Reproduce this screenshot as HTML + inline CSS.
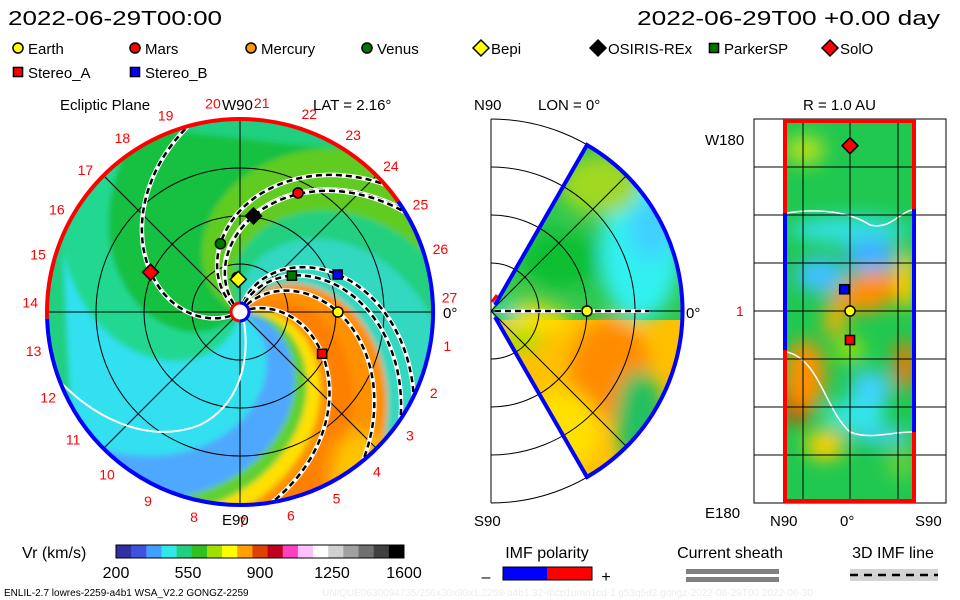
<!DOCTYPE html>
<html><head><meta charset="utf-8">
<style>
html,body{margin:0;padding:0;background:#fff;}
svg{display:block;font-family:"Liberation Sans","DejaVu Sans",sans-serif;}
text{font-family:"Liberation Sans","DejaVu Sans",sans-serif;}
</style></head>
<body>
<svg id="chart" width="960" height="600" viewBox="0 0 960 600" xmlns="http://www.w3.org/2000/svg">
<defs>
  <filter id="blur3" x="-20%" y="-20%" width="140%" height="140%"><feGaussianBlur stdDeviation="3"/></filter>
  <filter id="blur8" x="-30%" y="-30%" width="160%" height="160%"><feGaussianBlur stdDeviation="9"/></filter>
  <clipPath id="eclClip"><circle cx="240" cy="312" r="193"/></clipPath>
  <clipPath id="merClip"><path d="M491,311 L587,145 A192,192 0 0 1 587,477 Z"/></clipPath>
  <clipPath id="rectClip"><rect x="785" y="119" width="129" height="384"/></clipPath>
</defs>
<g id="header">
  <text x="8" y="25" font-size="20" textLength="214" lengthAdjust="spacingAndGlyphs">2022-06-29T00:00</text>
  <text x="637" y="25" font-size="20" textLength="303" lengthAdjust="spacingAndGlyphs">2022-06-29T00 +0.00 day</text>
</g>
<g id="legend"></g>
<g id="ecliptic"></g>
<g id="meridional"></g>
<g id="radial"></g>
<g id="bottom"></g>
</svg>
<script>
const NS="http://www.w3.org/2000/svg";
// ---- data ----
const bodyNames=["Earth","Mars","Mercury","Venus","Bepi","OSIRIS-REx","ParkerSP","SolO","Stereo_A","Stereo_B"];
const bodyR=[1.02,1.38,0.36,0.74,0.34,1.01,0.66,1.02,0.96,1.09];
const bodyLon=[0,64,95,106,93,82,35,156,-27,21];
const bodyShape=["circle","circle","circle","circle","diamond","diamond","square","diamond","square","square"];
const bodyColor=["#ffff00","#ff0000","#ff9900","#007700","#ffff00","#000000","#007700","#ff0000","#ff0000","#0000ff"];
const spiralBodies=["Earth","Mars","Venus","OSIRIS-REx","SolO","Stereo_A","Stereo_B","ParkerSP"];
const carrLabels=[1,2,3,4,5,6,7,8,9,10,11,12,13,14,15,16,17,18,19,20,21,22,23,24,25,26,27];
const cbarTicks=[200,550,900,1250,1600];
const cbarStops=["#3030a0","#4050e0","#40a0ff","#30e8e8","#20d080","#30c020","#a0e000","#ffff00","#ffa000","#e04000","#c00020","#ff40c0","#ffc0ff","#ffffff","#d0d0d0","#a0a0a0","#707070","#404040","#000000"];
const meridR=[1.0];
const radialShape=["diamond","square","circle","square"];
const radialColor=["#ff0000","#0000ff","#ffff00","#ff0000"];
const radialLat=[0,-0.09,0,0];
const radialLon=[-1.14,-0.15,0,0.2];

const AU=96, CX=240, CY=312, K=0.53;
function el(tag,attrs,parent,name,inter){
  const e=document.createElementNS(NS,tag);
  for(const k in attrs) e.setAttribute(k,attrs[k]);
  if(name){
    
    
  }
  parent.appendChild(e); return e;
}
function txt(parent,x,y,s,opts,name){
  const t=el('text',Object.assign({x:x,y:y},opts||{}),parent);
  
  
  t.textContent=s; return t;
}
function marker(parent,shape,color,x,y,s,name){
  let m;
  if(shape==="circle") m=el('circle',{cx:x,cy:y,r:s*0.72,fill:color,stroke:"#000","stroke-width":1.5},parent);
  else if(shape==="square") m=el('rect',{x:x-s*0.65,y:y-s*0.65,width:s*1.3,height:s*1.3,fill:color,stroke:"#000","stroke-width":1.5},parent);
  else m=el('polygon',{points:`${x},${y-s} ${x+s},${y} ${x},${y+s} ${x-s},${y}`,fill:color,stroke:"#000","stroke-width":1.5},parent);
  
  
  return m;
}
// ---- legend ----
const lg=document.getElementById('legend');
const legX=[18,135,251,367,481,598,714,830,18,135];
const legY=[48,48,48,48,48,48,48,48,72,72];
bodyNames.forEach((n,i)=>{
  marker(lg,bodyShape[i],bodyColor[i],legX[i],legY[i],bodyShape[i]==="diamond"?8:7,'legend-marker-'+n.toLowerCase());
  txt(lg,legX[i]+10,legY[i]+6,n,{"font-size":15},'legend-label-'+n.toLowerCase());
});
// ---- ecliptic ----
const ec=document.getElementById('ecliptic');
const field=el('g',{"clip-path":"url(#eclClip)"},ec,'ecliptic-field',false);
el('circle',{cx:CX,cy:CY,r:193,fill:"#20d080"},field,'ecliptic-bg',false);
const bands=[[-60,-15,"#ff9000"],[-38,-22,"#ff8000"],[-15,-5,"#ffe000"],[-5,5,"#60d030"],[5,32,"#50a8ff"],[32,100,"#30e0f0"],[100,130,"#20d890"],[130,200,"#18c040"],[200,240,"#60cc20"],[240,260,"#20d080"],[260,300,"#30d8c0"]];
const bandG=el('g',{filter:"url(#blur3)"},field,'ecliptic-bands',false);
bands.forEach((b,i)=>{
  let pts=[];
  for(let r=0;r<=210;r+=5){const a=(b[0]+K*r)*Math.PI/180;pts.push([CX+r*Math.cos(a),CY+r*Math.sin(a)]);}
  for(let r=210;r>=0;r-=5){const a=(b[1]+K*r)*Math.PI/180;pts.push([CX+r*Math.cos(a),CY+r*Math.sin(a)]);}
  el('polygon',{points:pts.map(p=>p[0].toFixed(1)+","+p[1].toFixed(1)).join(" "),fill:b[2]},bandG,'speed-band-'+i,false);
});
el('ellipse',{cx:360,cy:470,rx:30,ry:40,fill:"#ffd000",opacity:0.8,filter:"url(#blur8)"},field,'yellow-blob',false);
const grid=el('g',{stroke:"#000","stroke-width":1,fill:"none"},ec,'ecliptic-grid',false);
[48,96,144].forEach((r,i)=>el('circle',{cx:CX,cy:CY,r:r},grid,'grid-circle-'+i,false));
[0,45,90,135].forEach((a,i)=>{const t=a*Math.PI/180;el('line',{x1:CX-193*Math.cos(t),y1:CY-193*Math.sin(t),x2:CX+193*Math.cos(t),y2:CY+193*Math.sin(t)},grid,'grid-ray-'+i,false);});
el('path',{d:"M48,368 C90,420 150,445 200,425 C240,405 250,360 244,322",stroke:"#fff","stroke-width":2,fill:"none"},ec,'current-sheath-line',false);
const spG=el('g',{fill:"none"},ec,'imf-spirals',false);
spiralBodies.forEach(n=>{
  const i=bodyNames.indexOf(n);
  const rp=bodyR[i]*AU, phP=-bodyLon[i];
  let d="";
  for(let r=10;r<=193;r+=3){const a=(phP+K*(r-rp))*Math.PI/180;d+=(r===10?"M":"L")+(CX+r*Math.cos(a)).toFixed(1)+","+(CY+r*Math.sin(a)).toFixed(1);}
  el('path',{d:d,stroke:"#fff","stroke-width":4.5},spG,'spiral-halo-'+n.toLowerCase(),false);
  el('path',{d:d,stroke:"#000","stroke-width":2.5,"stroke-dasharray":"6,4"},spG,'spiral-'+n.toLowerCase(),false);
});
function arc(r,a1,a2){const p1=[CX+r*Math.cos(a1*Math.PI/180),CY-r*Math.sin(a1*Math.PI/180)],p2=[CX+r*Math.cos(a2*Math.PI/180),CY-r*Math.sin(a2*Math.PI/180)];return `M${p1[0]},${p1[1]} A${r},${r} 0 ${(a2-a1)>180?1:0} 0 ${p2[0]},${p2[1]}`;}
el('path',{d:arc(193,35,182),stroke:"#ff0000","stroke-width":4,fill:"none"},ec,'polarity-ring-positive',false);
el('path',{d:arc(193,-178,35),stroke:"#0000ff","stroke-width":4,fill:"none"},ec,'polarity-ring-negative',false);
el('circle',{cx:CX,cy:CY,r:9,fill:"#fff",stroke:"#ff0000","stroke-width":3},ec,'sun',false);
el('path',{d:`M${CX},${CY-9} A9,9 0 0 1 ${CX},${CY+9}`,stroke:"#0000ff","stroke-width":3,fill:"none"},ec,'sun-negative-half',false);
bodyNames.forEach((n,i)=>{
  const a=bodyLon[i]*Math.PI/180,r=bodyR[i]*AU;
  marker(ec,bodyShape[i],bodyColor[i],CX+r*Math.cos(a),CY-r*Math.sin(a),bodyShape[i]==="diamond"?8:7,'body-'+n.toLowerCase());
});
carrLabels.forEach(n=>{
  const a=(4-13.33*(n%27))*Math.PI/180, r=210;
  txt(ec,CX+r*Math.cos(a),CY-r*Math.sin(a)+5,String(n),{"font-size":14,fill:"#ff0000","text-anchor":"middle"},'carrington-label-'+n);
});
txt(ec,60,110,"Ecliptic Plane",{"font-size":15},'ecliptic-title');
txt(ec,222,110,"W90",{"font-size":15},'w90-label');
txt(ec,222,525,"E90",{"font-size":15},'e90-label');
txt(ec,443,318,"0°",{"font-size":15},'zero-deg-label');
txt(ec,313,110,"LAT = 2.16°",{"font-size":15},'lat-label');
// ---- meridional ----
const me=document.getElementById('meridional');
const mf=el('g',{"clip-path":"url(#merClip)"},me,'meridional-field',false);
el('rect',{x:480,y:130,width:210,height:360,fill:"#30c850"},mf,'mer-bg',false);
el('rect',{x:480,y:320,width:210,height:170,fill:"#ffc000"},mf,'mer-south',false);
const mb=el('g',{filter:"url(#blur8)"},mf,'mer-blobs',false);
[[640,250,40,70,"#30f0f0"],[650,230,20,30,"#40d0ff"],[600,185,40,30,"#a0d820"],[560,260,40,30,"#10c030"],[610,370,40,50,"#ff8c00"],[560,430,40,40,"#ffe000"],[640,420,25,50,"#20c060"],[540,320,30,12,"#ffe000"],[525,300,18,10,"#60d040"],[520,340,20,12,"#a0e000"],[505,312,10,6,"#30e0f0"]].forEach((b,i)=>el('ellipse',{cx:b[0],cy:b[1],rx:b[2],ry:b[3],fill:b[4]},mb,'mer-blob-'+i,false));
const mg=el('g',{stroke:"#000","stroke-width":1,fill:"none"},me,'meridional-grid',false);
[48,96,144,192].forEach((r,i)=>el('path',{d:`M491,${311-r} A${r},${r} 0 0 1 491,${311+r}`},mg,'mer-arc-'+i,false));
el('line',{x1:491,y1:119,x2:491,y2:503},mg,'mer-axis',false);
el('line',{x1:491,y1:311,x2:683,y2:311},mg,'mer-equator',false);
el('line',{x1:491,y1:311,x2:627,y2:175},mg,'mer-ray-n45',false);
el('line',{x1:491,y1:311,x2:627,y2:447},mg,'mer-ray-s45',false);
el('path',{d:"M495,311 L649,311",stroke:"#fff","stroke-width":4,fill:"none"},me,'mer-imf-halo',false);
el('path',{d:"M495,311 L649,311",stroke:"#000","stroke-width":2.5,"stroke-dasharray":"6,4",fill:"none"},me,'mer-imf-line',false);
el('path',{d:"M495,305 L587,145 A192,192 0 0 1 587,477 L495,317",stroke:"#0000ff","stroke-width":4,fill:"none"},me,'mer-polarity-border',false);
el('line',{x1:492,y1:302,x2:497,y2:295,stroke:"#ff0000","stroke-width":3},me,'mer-red-tick',false);
marker(me,"circle","#ffff00",491+meridR[0]*AU,311,7,'mer-earth');
txt(me,474,110,"N90",{"font-size":15},'n90-label');
txt(me,538,110,"LON = 0°",{"font-size":15},'lon-label');
txt(me,686,318,"0°",{"font-size":15},'mer-zero-label');
txt(me,474,526,"S90",{"font-size":15},'s90-label');
// ---- radial ----
const ra=document.getElementById('radial');
const rf=el('g',{"clip-path":"url(#rectClip)"},ra,'radial-field',false);
el('rect',{x:785,y:119,width:129,height:384,fill:"#20c850"},rf,'rad-bg',false);
const rb=el('g',{filter:"url(#blur8)"},rf,'rad-blobs',false);
[[805,150,20,15,"#b0e020"],[850,230,60,14,"#30e0e0"],[870,255,25,18,"#40b0ff"],[820,275,25,18,"#40c0ff"],[880,285,35,14,"#ff9000"],[860,300,30,12,"#ff9000"],[835,320,10,18,"#ffb000"],[906,280,10,30,"#ffd000"],[905,365,10,25,"#ff7000"],[870,390,20,20,"#40d0ff"],[855,415,30,14,"#30e8e8"],[880,435,30,8,"#40d0ff"],[797,395,14,30,"#e03000"],[805,375,20,35,"#ff9000"],[825,445,20,15,"#ffd000"],[850,350,14,12,"#a0e000"],[900,460,15,20,"#60d040"]].forEach((b,i)=>el('ellipse',{cx:b[0],cy:b[1],rx:b[2],ry:b[3],fill:b[4]},rb,'rad-blob-'+i,false));
el('path',{d:"M787,213 C820,208 850,212 870,225 C890,230 900,212 912,210",stroke:"#fff","stroke-width":1.5,fill:"none"},ra,'rad-sheath-top',false);
el('path',{d:"M787,352 C820,360 825,410 850,432 C870,440 890,432 912,432",stroke:"#fff","stroke-width":1.5,fill:"none"},ra,'rad-sheath-bottom',false);
const rg=el('g',{stroke:"#000","stroke-width":1,fill:"none"},ra,'radial-grid',false);
el('rect',{x:754,y:119,width:192,height:384},rg,'rad-frame',false);
[803,850,898].forEach((x,i)=>el('line',{x1:x,y1:119,x2:x,y2:503},rg,'rad-vline-'+i,false));
for(let j=1;j<8;j++) el('line',{x1:754,y1:119+48*j,x2:946,y2:119+48*j},rg,'rad-hline-'+j,false);
el('path',{d:"M785,213 L785,121 L914,121 L914,209",stroke:"#ff0000","stroke-width":4,fill:"none"},ra,'rad-border-top',false);
el('path',{d:"M785,350 L785,501 L914,501 L914,432",stroke:"#ff0000","stroke-width":4,fill:"none"},ra,'rad-border-bottom',false);
el('line',{x1:785,y1:213,x2:785,y2:350,stroke:"#0000ff","stroke-width":4},ra,'rad-border-left-neg',false);
el('line',{x1:914,y1:209,x2:914,y2:432,stroke:"#0000ff","stroke-width":4},ra,'rad-border-right-neg',false);
radialShape.forEach((s,i)=>marker(ra,s,radialColor[i],850+radialLat[i]*64,311+radialLon[i]*145,s==="diamond"?8:7,'rad-body-'+i));
txt(ra,705,145,"W180",{"font-size":15},'w180-label');
txt(ra,736,316,"1",{"font-size":14,fill:"#ff0000"},'rad-one-label');
txt(ra,705,518,"E180",{"font-size":15},'e180-label');
txt(ra,770,526,"N90",{"font-size":15},'rad-n90-label');
txt(ra,840,526,"0°",{"font-size":15},'rad-zero-label');
txt(ra,915,526,"S90",{"font-size":15},'rad-s90-label');
txt(ra,803,110,"R = 1.0 AU",{"font-size":15},'radius-label');
// ---- bottom ----
const bt=document.getElementById('bottom');
txt(bt,22,558,"Vr (km/s)",{"font-size":16},'colorbar-title');
const cbw=(404-116)/cbarStops.length;
cbarStops.forEach((c,i)=>el('rect',{x:116+i*cbw,y:545,width:cbw+0.5,height:13,fill:c},bt,'colorbar-seg-'+i,false));
el('rect',{x:116,y:545,width:288,height:13,fill:"none",stroke:"#000","stroke-width":1},bt,'colorbar-frame',false);
cbarTicks.forEach(v=>txt(bt,116+(v-200)/1400*288,578,String(v),{"font-size":16,"text-anchor":"middle"},'colorbar-tick-'+v));
txt(bt,547,558,"IMF polarity",{"font-size":16,"text-anchor":"middle"},'imf-polarity-title');
el('rect',{x:503,y:567,width:44,height:13,fill:"#0000ff"},bt,'imf-negative-swatch',false);
el('rect',{x:547,y:567,width:45,height:13,fill:"#ff0000"},bt,'imf-positive-swatch',false);
el('rect',{x:503,y:567,width:89,height:13,fill:"none",stroke:"#000"},bt,'imf-swatch-frame',false);
txt(bt,486,582,"–",{"font-size":16,"text-anchor":"middle"},'imf-minus');
txt(bt,606,582,"+",{"font-size":16,"text-anchor":"middle"},'imf-plus');
txt(bt,730,558,"Current sheath",{"font-size":16,"text-anchor":"middle"},'current-sheath-title');
el('rect',{x:686,y:569,width:93,height:5,fill:"#808080"},bt,'sheath-bar-1',false);
el('rect',{x:686,y:577,width:93,height:5,fill:"#808080"},bt,'sheath-bar-2',false);
txt(bt,893,558,"3D IMF line",{"font-size":16,"text-anchor":"middle"},'imf-line-title');
el('rect',{x:850,y:569,width:88,height:12,fill:"#d3d3d3"},bt,'imf-line-band',false);
el('line',{x1:850,y1:575,x2:938,y2:575,stroke:"#000","stroke-width":2.5,"stroke-dasharray":"8,6"},bt,'imf-line-sample',false);
txt(bt,4,596,"ENLIL-2.7 lowres-2259-a4b1 WSA_V2.2 GONGZ-2259",{"font-size":10},'run-info');
txt(bt,322,596,"UNIQUE0630094735/256x30x90x1.2259-a4b1.32-mcp1umn1cd-1.g53q5d2.gongz-2022-06-29T00   2022-06-30",{"font-size":10,fill:"#ececec"},'run-id');
</script>
</body></html>
